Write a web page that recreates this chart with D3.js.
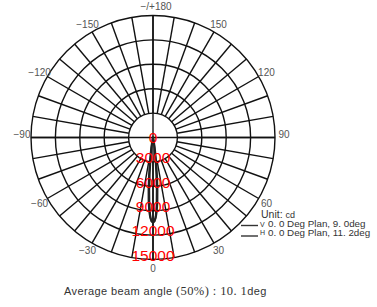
<!DOCTYPE html>
<html>
<head>
<meta charset="utf-8">
<script src="https://cdn.jsdelivr.net/npm/d3@7"></script>
<style>
  body { margin: 0; background: #fff; }
  text { font-family: "Liberation Sans", Arial, sans-serif; }
</style>
</head>
<body>
<div class="chart"></div>
<script>
// ring values (cd) and angle ticks
var ringValues = [0, 3000, 6000, 9000, 12000, 15000];
var angleTicks = [0, 30, 60, 90, 120, 150, 180, -150, -120, -90, -60, -30];
var angleLabels = ['0', '30', '60', '90', '120', '150', '\u2212/+180', '\u2212150', '\u2212120', '\u221290', '\u221260', '\u221230'];

// intensity curves (symmetric about 0 deg)
var curveAngles = [0, 1, 2, 3, 4, 5, 6, 7, 8, 10, 12, 15, 20, 30, 45, 90, 180];
var vValues = [10500, 10300, 9600, 8300, 6500, 4600, 3100, 2000, 1300, 600, 320, 150, 60, 20, 0, 0, 0];
var hValues = [10400, 10300, 9900, 9100, 7900, 6400, 4900, 3600, 2600, 1300, 650, 300, 110, 30, 0, 0, 0];

var width = 377, height = 307;
var cx = 153, cy = 137.5, R = 122;

var svg = d3.select('.chart').append('svg')
  .attr('width', width).attr('height', height);

var r = d3.scaleLinear().domain([0, 15000]).range([0, R]);
// 0 deg points down, positive angles go to the right
var rad = function(deg) { return Math.PI - deg * Math.PI / 180; };

var g = svg.append('g').attr('transform', 'translate(' + cx + ',' + cy + ')');

// rings
g.selectAll('circle.ring').data(ringValues.slice(1))
  .enter().append('circle')
  .attr('class', 'ring')
  .attr('r', function(d) { return r(d); })
  .style('fill', 'none').style('stroke', '#111').style('stroke-width', 1.4);

// spokes every 10 deg from first ring out
var spokes = d3.range(-170, 190, 10);
g.selectAll('line.spoke').data(spokes)
  .enter().append('line')
  .attr('class', 'spoke')
  .attr('x1', function(d) { return r(ringValues[1]) * Math.sin(rad(d)); })
  .attr('y1', function(d) { return -r(ringValues[1]) * Math.cos(rad(d)); })
  .attr('x2', function(d) { return R * Math.sin(rad(d)); })
  .attr('y2', function(d) { return -R * Math.cos(rad(d)); })
  .style('stroke', '#111').style('stroke-width', 1.4);

// main axes through the centre
g.selectAll('line.axis').data([0, 90])
  .enter().append('line')
  .attr('class', 'axis')
  .attr('x1', function(d) { return -R * Math.sin(rad(d)); })
  .attr('y1', function(d) { return R * Math.cos(rad(d)); })
  .attr('x2', function(d) { return R * Math.sin(rad(d)); })
  .attr('y2', function(d) { return -R * Math.cos(rad(d)); })
  .style('stroke', '#111').style('stroke-width', 1.4);

// curves
var buildPoints = function(values) {
  var pts = [];
  for (var i = curveAngles.length - 1; i > 0; i--) pts.push([-curveAngles[i], values[i]]);
  for (var j = 0; j < curveAngles.length; j++) pts.push([curveAngles[j], values[j]]);
  return pts;
};
var line = d3.lineRadial()
  .angle(function(d) { return rad(d[0]); })
  .radius(function(d) { return r(d[1]); })
  .curve(d3.curveLinearClosed);

g.selectAll('path.curve').data([vValues, hValues])
  .enter().append('path')
  .attr('class', 'curve')
  .attr('d', function(d) { return line(buildPoints(d)); })
  .style('fill', 'none').style('stroke', '#222').style('stroke-width', 1.8);

// angle labels
g.selectAll('text.ang').data(angleTicks)
  .enter().append('text')
  .attr('class', 'ang')
  .attr('x', function(d) { return 131 * Math.sin(rad(d)) + (d === 180 ? 3 : 0); })
  .attr('y', function(d) { return -131 * Math.cos(rad(d)) + 3.5 - (Math.abs(d) === 90 ? 3 : 0); })
  .attr('text-anchor', 'middle')
  .style('font-size', '10px').style('fill', '#555')
  .text(function(d, i) { return angleLabels[i]; });

// ring value labels
g.selectAll('text.val').data(ringValues)
  .enter().append('text')
  .attr('class', 'val')
  .attr('x', 0)
  .attr('y', function(d) { return d === 0 ? 5.5 : r(d) + 1.3; })
  .attr('text-anchor', 'middle')
  .style('font-size', '15.5px').style('fill', '#ff0000')
  .text(function(d) { return d; });

// legend
var legend = svg.append('g').style('fill', '#333');
legend.append('text').attr('x', 261).attr('y', 217.5).style('font-size', '10.5px')
  .text('Unit: ').append('tspan').style('font-size', '9px').text('cd');

var legendRows = [['V', '0. 0  Deg Plan, 9. 0deg'], ['H', '0. 0  Deg Plan, 11. 2deg']];
legendRows.forEach(function(row, i) {
  var y = 227 + i * 8.5;
  legend.append('line').attr('x1', 241).attr('x2', 258)
    .attr('y1', y - 1.5 + i * 2).attr('y2', y - 1.5 + i * 2)
    .style('stroke', '#333').style('stroke-width', 1.4);
  legend.append('text').attr('x', 260).attr('y', y - 0.5).style('font-size', '7px').text(row[0]);
  legend.append('text').attr('x', 268).attr('y', y).style('font-size', '9.8px').text(row[1]);
});

// footer
var foot = svg.append('text').attr('x', 64).attr('y', 295)
  .style('font-size', '11px').style('fill', '#333').style('letter-spacing', '0.4px');
foot.append('tspan').text('Average beam angle ');
foot.append('tspan').style('font-family', '"Liberation Serif", serif').style('font-size', '12.5px').text('(50%) : 10. 1');
foot.append('tspan').text('deg');
</script>
</body>
</html>
